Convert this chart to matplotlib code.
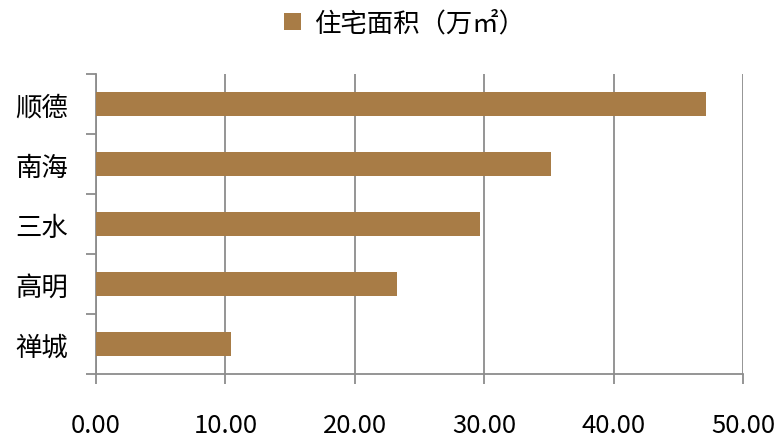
import matplotlib.pyplot as plt
import numpy as np

plt.rcParams['font.family'] = ['Noto Sans CJK SC', 'DejaVu Sans']

# 各区住宅面积（万㎡）
districts = ['顺德', '南海', '三水', '高明', '禅城']
areas = [47.15, 35.15, 29.7, 23.25, 10.45]
series_name = '住宅面积（万㎡）'
xticks = [0, 10, 20, 30, 40, 50]

bar_color = '#A87C46'
grid_color = '#8C8C8C'

fig = plt.figure(figsize=(7.78, 4.39), dpi=100)
ax = fig.add_axes([0.1234, 0.1458, 0.8316, 0.6834])

y = np.arange(len(districts))
ax.barh(y, areas, height=0.4, color=bar_color, label=series_name, zorder=3)

ax.set_ylim(len(districts) - 0.5, -0.5)
ax.set_yticks(y)
ax.set_yticklabels(districts, fontsize=19)
ax.set_yticks(np.arange(len(districts) + 1) - 0.5, minor=True)
ax.tick_params(axis='y', which='major', length=0, pad=20)
ax.tick_params(axis='y', which='minor', length=7, width=1.3, color=grid_color)

ax.set_xlim(0, 50)
ax.set_xticks(xticks)
ax.set_xticklabels(['%.2f' % v for v in xticks], fontsize=18.5)
ax.tick_params(axis='x', length=7, width=1.3, color=grid_color, pad=20.5)
ax.xaxis.grid(True, color=grid_color, linewidth=1.3, zorder=0)

for s in ['top', 'right']:
    ax.spines[s].set_visible(False)
for s in ['left', 'bottom']:
    ax.spines[s].set_color(grid_color)
    ax.spines[s].set_linewidth(1.3)

fig.legend(loc='upper center', bbox_to_anchor=(0.52, 1.03), frameon=False,
           fontsize=19, handlelength=0.65, handleheight=0.65, handletextpad=0.5)

fig.savefig('out.png', dpi=100)
